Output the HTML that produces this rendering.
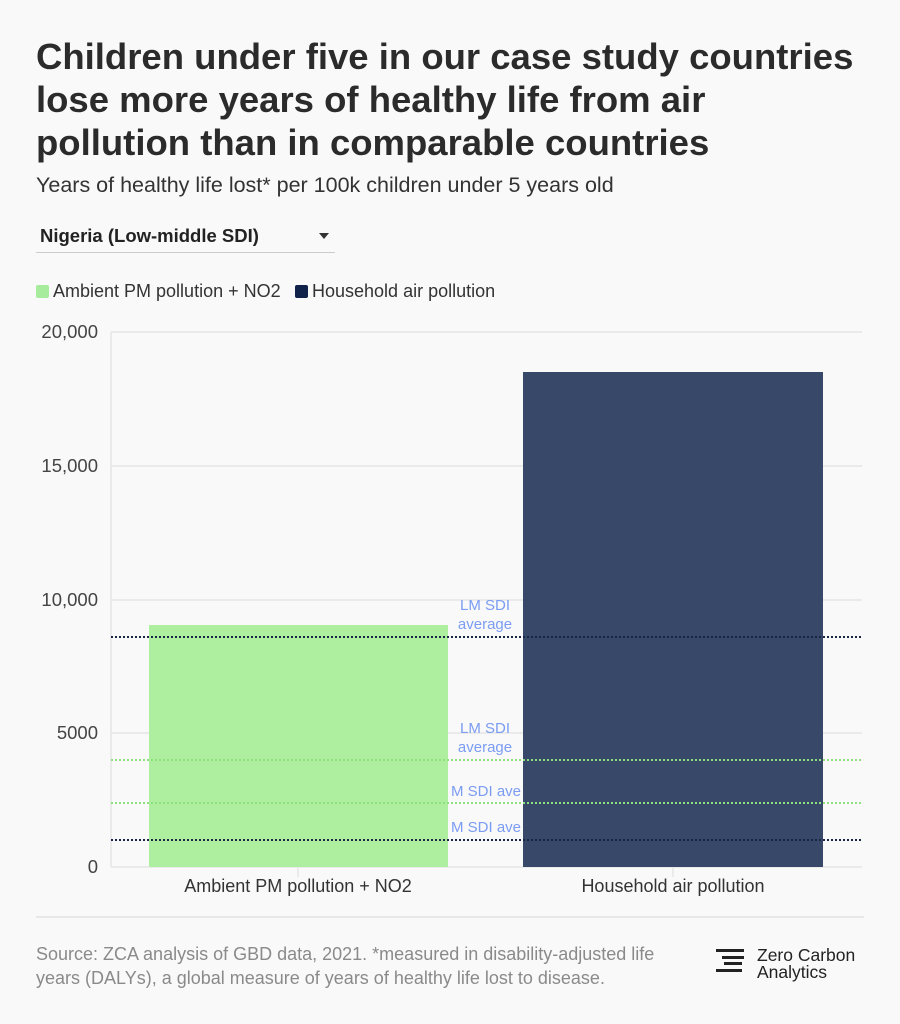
<!DOCTYPE html>
<html><head><meta charset="utf-8"><style>
body{margin:0;width:900px;height:1024px;background:#f9f9f9;font-family:"Liberation Sans",sans-serif;position:relative;overflow:hidden;color:#333}
.t{position:absolute;left:36px;top:35px;font-size:36.5px;font-weight:bold;line-height:43px;color:#2b2b2b;white-space:nowrap}
.s{position:absolute;left:36px;top:173px;font-size:21.5px;color:#333;white-space:nowrap}
.dd{position:absolute;left:36px;top:223px;width:299px;height:29px;border-bottom:1px solid #ccc;font-size:18.5px;font-weight:bold;color:#222}
.dd span{position:absolute;left:4px;top:2px}
.dd i{position:absolute;right:6px;top:10px;width:0;height:0;border-left:5px solid transparent;border-right:5px solid transparent;border-top:6px solid #333}
.lg{position:absolute;top:281px;font-size:18px;color:#333;white-space:nowrap}
.sw{display:inline-block;width:13px;height:13px;border-radius:2px;vertical-align:-1px;margin-right:4px}
.f{position:absolute;left:36px;top:942px;font-size:18px;line-height:24px;color:#8a8a8a;white-space:nowrap}
</style></head><body>
<div class="t">Children under five in our case study countries<br>lose more years of healthy life from air<br>pollution than in comparable countries</div>
<div class="s">Years of healthy life lost* per 100k children under 5 years old</div>
<div class="dd"><span>Nigeria (Low-middle SDI)</span><i></i></div>
<div class="lg" style="left:36px"><span class="sw" style="background:#a6ec9c"></span>Ambient PM pollution + NO2</div>
<div class="lg" style="left:295px"><span class="sw" style="background:#10224a"></span>Household air pollution</div>
<svg style="position:absolute;left:0;top:0" width="900" height="1024" font-family="Liberation Sans, sans-serif">
<g stroke="#e6e6e6" stroke-width="1.5">
<line x1="111" x2="862" y1="332" y2="332"/><line x1="111" x2="862" y1="466" y2="466"/>
<line x1="111" x2="862" y1="600" y2="600"/><line x1="111" x2="862" y1="733" y2="733"/>
<line x1="111" x2="862" y1="867" y2="867"/><line x1="111" x2="111" y1="332" y2="867"/>
<line x1="298" x2="298" y1="867" y2="877"/><line x1="673" x2="673" y1="867" y2="877"/>
</g>
<g font-size="18.5" fill="#444" text-anchor="end">
<text x="98" y="338">20,000</text><text x="98" y="472">15,000</text><text x="98" y="606">10,000</text><text x="98" y="739">5000</text><text x="98" y="873">0</text>
</g>
<rect x="149" y="625" width="299" height="242" fill="#aeef9f"/>
<rect x="523" y="372" width="300" height="495" fill="#384868"/>
<g stroke-width="2" stroke-dasharray="2,2">
<line x1="111" x2="862" y1="637" y2="637" stroke="#1a2545"/>
<line x1="111" x2="862" y1="760" y2="760" stroke="#8fe07f"/>
<line x1="111" x2="862" y1="803" y2="803" stroke="#8fe07f"/>
<line x1="111" x2="862" y1="840" y2="840" stroke="#1a2545"/>
</g>
<g font-size="15" fill="#7b9cf2" text-anchor="middle">
<text x="485" y="610">LM SDI</text><text x="485" y="629">average</text>
<text x="485" y="733">LM SDI</text><text x="485" y="752">average</text>
<text x="486" y="796">M SDI ave</text><text x="486" y="832">M SDI ave</text>
</g>
<g font-size="18" fill="#333" text-anchor="middle">
<text x="298" y="892">Ambient PM pollution + NO2</text><text x="673" y="892">Household air pollution</text>
</g>
<line x1="36" x2="864" y1="917" y2="917" stroke="#e3e3e3" stroke-width="1.5"/>
<g fill="#222"><rect x="716" y="949" width="28" height="3"/><rect x="722" y="956" width="22" height="3"/><rect x="724" y="962" width="18" height="3"/><rect x="716" y="969" width="26" height="3"/></g>
<text x="757" y="961" font-size="17.5" fill="#222">Zero Carbon</text>
<text x="757" y="978" font-size="17.5" fill="#222">Analytics</text>
</svg>
<div class="f">Source: ZCA analysis of GBD data, 2021. *measured in disability-adjusted life<br>years (DALYs), a global measure of years of healthy life lost to disease.</div>
</body></html>
